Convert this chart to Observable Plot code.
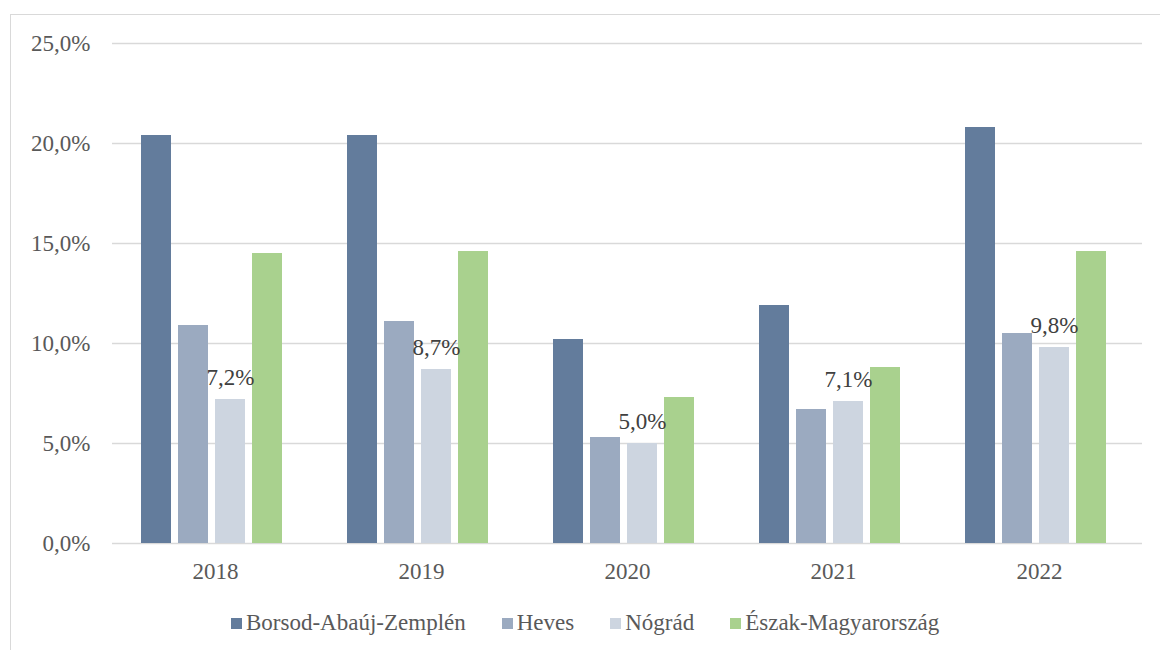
<!DOCTYPE html>
<html>
<head>
<meta charset="utf-8">
<style>
  html, body { margin: 0; padding: 0; background: #fff; }
  #wrap { position: relative; width: 1160px; height: 650px; overflow: hidden; }
  #wrap, #wrap *, #wrap svg text, #wrap svg tspan, #wrap svg g { font-family: 'Liberation Serif', 'Times New Roman', Times, serif !important; }
  #border { position: absolute; left: 10px; top: 14px; right: -5px; bottom: -5px; border-left: 1.5px solid #d9d9d9; border-top: 1.5px solid #d9d9d9; }
  #chart { position: absolute; left: 0; top: 0; }
  #legend { position: absolute; left: 231px; top: 610px; display: flex; align-items: center; font-size: 23px; color: #595959; white-space: nowrap; }
  #legend .item { display: flex; align-items: center; margin-right: 36px; }
  #legend .item:last-child { margin-right: 0; }
  #legend .sw { display: inline-block; width: 11px; height: 11px; margin-right: 4px; }
</style>
<script src="https://cdn.jsdelivr.net/npm/d3@7"></script>
<script src="https://cdn.jsdelivr.net/npm/@observablehq/plot@0.6"></script>
</head>
<body>
<div id="wrap">
  <div id="border"></div>
  <div id="chart"></div>
  <div id="legend"></div>
</div>
<script>
// Years on the category axis and the four regions shown per year
const years = ["2018", "2019", "2020", "2021", "2022"];
const series = ["Borsod-Abaúj-Zemplén", "Heves", "Nógrád", "Észak-Magyarország"];
const colors = ["#637c9c", "#9baac0", "#cdd5e0", "#a9d18e"];

// Values in percent, one array per region (same order as years)
const borsod = [20.4, 20.4, 10.2, 11.9, 20.8];
const heves = [10.9, 11.1, 5.3, 6.7, 10.5];
const nograd = [7.2, 8.7, 5.0, 7.1, 9.8];
const eszak = [14.5, 14.6, 7.3, 8.8, 14.6];

const yTicks = [0, 5, 10, 15, 20, 25];
const labelled = "Nógrád";

const valuesBySeries = [borsod, heves, nograd, eszak];
const data = [];
years.forEach((year, i) => {
  series.forEach((s, j) => {
    data.push({ year, series: s, value: valuesBySeries[j][i] });
  });
});

const fmt = v => v.toFixed(1).replace(".", ",") + "%";
const font = "Liberation Serif";

const chart = Plot.plot({
  width: 1160,
  height: 590,
  marginTop: 43,
  marginBottom: 47,
  marginLeft: 110,
  marginRight: 17,
  style: { fontFamily: font, fontSize: "23px", color: "#595959", background: "transparent" },
  fx: { domain: years, padding: 0, label: null },
  x: { domain: series, axis: null, paddingInner: 0.2, paddingOuter: 0.855, align: 0.45 },
  y: { domain: [0, 25], label: null },
  color: { domain: series, range: colors },
  marks: [
    Plot.ruleY(yTicks, { stroke: "#d9d9d9", strokeWidth: 1.5 }),
    Plot.axisY(yTicks, { tickFormat: fmt, tickSize: 0, tickPadding: 22, label: null, fontFamily: font, fontSize: 23, fill: "#595959" }),
    Plot.axisFx({ anchor: "bottom", tickSize: 0, tickPadding: 19, label: null, fontFamily: font, fontSize: 23, fill: "#595959" }),
    Plot.barY(data, { fx: "year", x: "series", y: "value", fill: "series" }),
    Plot.text(data.filter(d => d.series === labelled), {
      fx: "year", x: "series", y: "value", text: d => fmt(d.value),
      textAnchor: "middle", lineAnchor: "bottom", dy: -15,
      fill: "#404040", fontSize: 23, fontFamily: font
    })
  ]
});
document.getElementById("chart").appendChild(chart);

// Legend row below the chart
const legend = document.getElementById("legend");
series.forEach((s, i) => {
  const item = document.createElement("div");
  item.className = "item";
  const sw = document.createElement("span");
  sw.className = "sw";
  sw.style.background = colors[i];
  const label = document.createElement("span");
  label.textContent = s;
  item.appendChild(sw);
  item.appendChild(label);
  legend.appendChild(item);
});
</script>
</body>
</html>
